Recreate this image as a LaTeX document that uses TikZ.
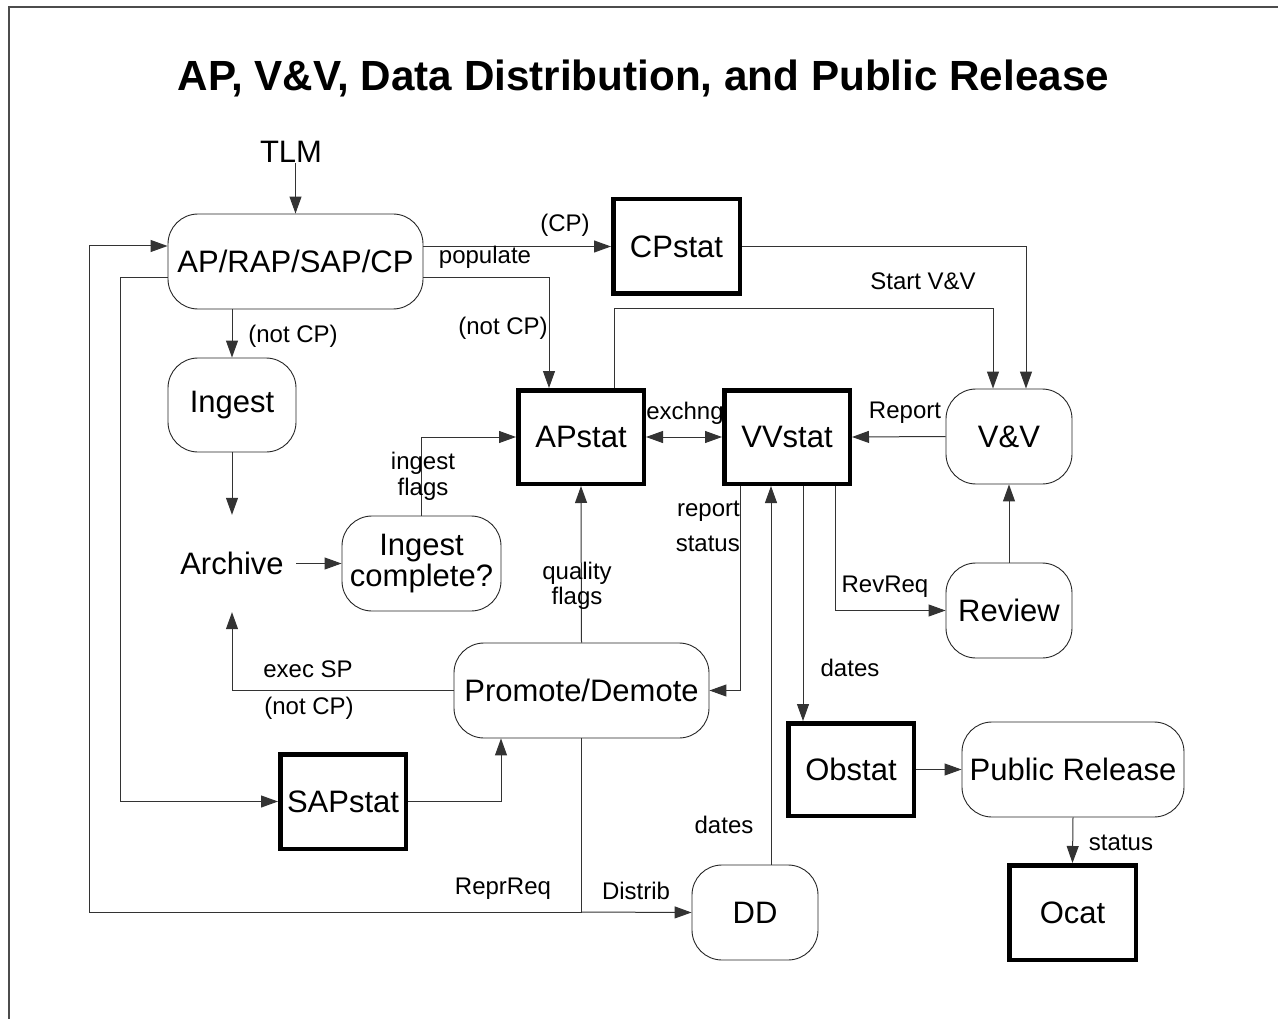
\documentclass[tikz,border=0pt]{standalone}
\usepackage{fontspec}
\setmainfont{Liberation Sans}
\usetikzlibrary{arrows.meta,calc}
\begin{document}
\begin{tikzpicture}[x=1pt,y=-1pt,
  nodefont/.style={font=\fontsize{31}{31}\selectfont},
  lblfont/.style={font=\fontsize{24}{25}\selectfont},
  rbox/.style={draw=black!85,line width=0.9pt,rounded corners=30pt,inner sep=0pt,nodefont,align=center},
  tbox/.style={draw=black,line width=4.5pt,inner sep=0pt,nodefont},
  plain/.style={inner sep=0pt,nodefont},
  lbl/.style={inner sep=0pt,lblfont,align=center},
  conn/.style={draw=black!80,line width=1pt},
  arr/.style={conn,-{Triangle[length=17pt,width=12pt]}},
  darr/.style={conn,{Triangle[length=17pt,width=12pt]}-{Triangle[length=17pt,width=12pt]}},
  frame/.style={draw=black!70,line width=1.3pt}]
\useasboundingbox (0,0) rectangle (1278,1019);
\coordinate (fa) at (9,7);
\coordinate (fb) at (1278,7);
\coordinate (fc) at (9,1019);
\draw[frame] (fb) -- (fa) -- (fc);

\node[inner sep=0pt,font=\fontsize{42.2}{42}\selectfont\bfseries] (title) at (643.5,78) {AP, V\&V, Data Distribution, and Public Release};

% nodes
\node[plain] (tlm) at (291,152) {TLM};
\node[rbox,minimum width=255pt,minimum height=95pt] (ap) at (295.5,261.5) {AP/RAP/SAP/CP};
\node[rbox,minimum width=128pt,minimum height=94pt] (ingest) at (232,405) {Ingest};
\node[plain,minimum width=128pt,minimum height=97pt] (archive) at (232,563.5) {Archive};
\node[rbox,minimum width=159pt,minimum height=95pt,font=\fontsize{31}{31}\selectfont] (ingc) at (421.5,563.5) {Ingest\\complete?};
\node[tbox,minimum width=126.5pt,minimum height=94.5pt] (cpstat) at (676.5,246.5) {CPstat};
\node[tbox,minimum width=125.5pt,minimum height=93.5pt] (apstat) at (581,437) {APstat};
\node[tbox,minimum width=125.5pt,minimum height=93.5pt] (vvstat) at (787,437) {VVstat};
\node[rbox,minimum width=126pt,minimum height=95pt] (vv) at (1009,436.5) {V\&V};
\node[rbox,minimum width=126pt,minimum height=95pt] (review) at (1009,610.5) {Review};
\node[rbox,minimum width=255pt,minimum height=95pt] (promote) at (581.5,690.5) {Promote/Demote};
\node[tbox,minimum width=125.5pt,minimum height=94.5pt] (sapstat) at (343,801.5) {SAPstat};
\node[rbox,minimum width=126pt,minimum height=95pt] (dd) at (755,912.5) {DD};
\node[tbox,minimum width=125.5pt,minimum height=92.5pt] (obstat) at (851,769.5) {Obstat};
\node[rbox,minimum width=222pt,minimum height=95pt] (pr) at (1073,769.5) {Public Release};
\node[tbox,minimum width=126.5pt,minimum height=94.5pt] (ocat) at (1072.5,912.5) {Ocat};

% helper coordinates
\coordinate (lx) at (120,278);
\coordinate (j) at (581.5,912);
\coordinate (bl) at (89,912);
\coordinate (sv) at (614,309);
\coordinate (d1) at ($(vvstat.south)+(16,0)$);
\coordinate (d2) at ($(dd.north)+(16,0)$);

% connectors
\draw[arr] (tlm.south -| ap.north) -- (ap.north);
\draw[arr] (ap.east |- cpstat.west) -- (cpstat.west);
\draw[arr] ($(ap.east)+(0,16.5)$) -| ($(apstat.north)+(-32,0)$);
\draw[arr] (ap.south -| ingest.north) -- (ingest.north);
\draw[arr] (ingest.south) -- (archive.north);
\draw[arr] (archive.east) -- (ingc.west);
\draw[arr] (ingc.north) |- (apstat.west);
\draw[arr] ($(apstat.north)+(33,0)$) -- (sv) -| ($(vv.north)+(-16,0)$);
\draw[arr] (cpstat.east) -| ($(vv.north)+(17,0)$);
\draw[darr] (apstat.east) -- (vvstat.west);
\draw[arr] (vv.west) -- (vvstat.east);
\draw[arr] (review.north) -- (vv.south);
\draw[arr] ($(vvstat.south)+(48,0)$) |- (review.west);
\draw[arr] ($(vvstat.south)+(-47,0)$) |- (promote.east);
\draw[arr] (d1) -- (d1 |- obstat.north);
\draw[arr] (d2) -- (d2 |- vvstat.south);
\draw[arr] (promote.north) -- (apstat.south);
\draw[arr] (promote.west) -| (archive.south);
\draw[conn] ($(ap.west)+(0,16.5)$) -- (lx);
\draw[arr] (lx) |- (sapstat.west);
\draw[arr] (sapstat.east) -| ($(promote.south)+(-80.5,0)$);
\draw[conn] (promote.south) -- (j);
\draw[arr] (j) -- (dd.west);
\draw[arr] (j) -- (bl) |- ($(ap.west)+(0,-15.5)$);
\draw[arr] (obstat.east) -- (pr.west);
\draw[arr] (pr.south) -- (ocat.north);

% labels
\node[lbl] (l1) at (565,225) {(CP)};
\node[lbl] (l2) at (485,257) {populate};
\node[lbl] (l3) at (503,328) {(not CP)};
\node[lbl] (l4) at (293,336) {(not CP)};
\node[lbl] (l5) at (923,281) {Start V\&V};
\node[lbl] (l6) at (685,413) {exchng};
\node[lbl] (l7) at (905,413) {Report};
\node[lbl,font=\fontsize{24}{26}\selectfont] (l8) at (423,476) {ingest\\flags};
\node[lbl,font=\fontsize{24}{25}\selectfont] (l9) at (577,586) {quality\\flags};
\node[lbl,anchor=east] (l10) at (740,511) {report};
\node[lbl,anchor=east] (l11) at (740,544) {status};
\node[lbl] (l12) at (885,587) {RevReq};
\node[lbl] (l13) at (850,668) {dates};
\node[lbl] (l14) at (308,669) {exec SP};
\node[lbl] (l15) at (309,708) {(not CP)};
\node[lbl] (l16) at (724,825) {dates};
\node[lbl] (l17) at (503,889) {ReprReq};
\node[lbl] (l18) at (636,891) {Distrib};
\node[lbl] (l19) at (1121,843) {status};
\end{tikzpicture}
\end{document}
